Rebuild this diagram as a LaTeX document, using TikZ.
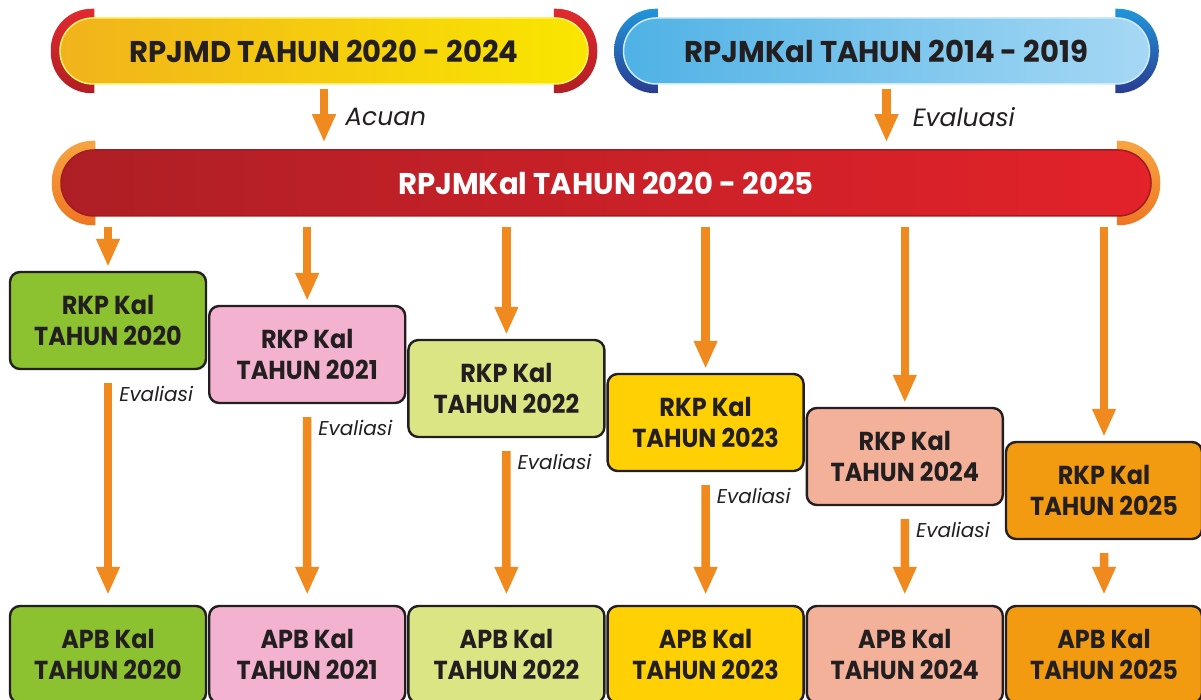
\documentclass[tikz,border=0pt]{standalone}
\usepackage{fontspec}
\setmainfont{Poppins}
\newfontfamily\boxfont{Poppins}[FakeStretch=0.92]
\newfontfamily\bannerfont{Poppins}[FakeStretch=0.97]
\usetikzlibrary{arrows.meta,positioning,matrix,backgrounds}

\definecolor{ink}{HTML}{231F20}
\definecolor{floworange}{HTML}{F0891E}
\definecolor{c2020}{HTML}{8CC230}
\definecolor{c2021}{HTML}{F3B3D0}
\definecolor{c2022}{HTML}{DCE584}
\definecolor{c2023}{HTML}{FFD004}
\definecolor{c2024}{HTML}{F4B199}
\definecolor{c2025}{HTML}{F29B11}
\definecolor{goldleft}{HTML}{F1B31C}
\definecolor{goldright}{HTML}{F9E600}
\definecolor{goldedge}{HTML}{FFF36B}
\definecolor{redcaptop}{HTML}{E02A2F}
\definecolor{redcapbot}{HTML}{B01F24}
\definecolor{skyleft}{HTML}{4FB2E5}
\definecolor{skyright}{HTML}{A6D8F4}
\definecolor{skyedge}{HTML}{CDEBFA}
\definecolor{bluecaptop}{HTML}{2196DB}
\definecolor{bluecapbot}{HTML}{2A3B8F}
\definecolor{planleft}{HTML}{AE1F25}
\definecolor{planright}{HTML}{E3222A}
\definecolor{planedge}{HTML}{A11C22}
\definecolor{orcaptop}{HTML}{F7A540}
\definecolor{orcapbot}{HTML}{EE7623}

\newcommand\kal[2]{\raisebox{-3.5pt}[\height][\depth]{\begin{tabular}{@{}c@{}}#1 Kal\\TAHUN #2\end{tabular}}}
\newcommand\pillends[3]{%
  \begin{pgfonlayer}{background}
  \begin{scope}
  \clip ([xshift=-10pt,yshift=10pt]#1.north west) rectangle ([xshift=35pt,yshift=-10pt]#1.south west)
        ([xshift=-35pt,yshift=10pt]#1.north east) rectangle ([xshift=10pt,yshift=-10pt]#1.south east);
  \shade[top color=#2,bottom color=#3,rounded corners=41pt]
    ([xshift=-8.5pt,yshift=8.5pt]#1.north west) rectangle ([xshift=8.5pt,yshift=-8.5pt]#1.south east);
  \end{scope}
  \end{pgfonlayer}}

\tikzset{
  flow/.style={draw=floworange, line width=8.5pt, -{Triangle[width=22pt,length=28pt]}},
  yearbox/.style={draw=ink, line width=2.4pt, rounded corners=10pt, minimum width=196pt,
    minimum height=97pt, text=ink, inner sep=0pt,
    font=\boxfont\bfseries\fontsize{26}{31}\selectfont},
  pill/.style={rounded corners=33pt, minimum height=66pt, line width=1.5pt, inner sep=0pt,
    font=\bannerfont\bfseries\fontsize{30}{36}\selectfont},
  note/.style={font=\itshape\fontsize{25}{30}\selectfont, text=ink, inner sep=0pt},
  small note/.style={font=\itshape\fontsize{20}{24}\selectfont, text=ink, inner sep=0pt},
}

\begin{document}
\begin{tikzpicture}[x=1pt,y=-1pt]
\useasboundingbox (0,0) rectangle (1201,700);

\node[pill, minimum width=528pt, left color=goldleft, right color=goldright, draw=goldedge, text=ink] (rpjmd) at (324,51) {RPJMD TAHUN 2020 - 2024};
\pillends{rpjmd}{redcaptop}{redcapbot}
\node[pill, minimum width=526pt, left color=skyleft, right color=skyright, draw=skyedge, text=ink] (lama) at (886.5,51) {RPJMKal TAHUN 2014 - 2019};
\pillends{lama}{bluecaptop}{bluecapbot}
\node[pill, minimum width=1090pt, left color=planleft, right color=planright, draw=planedge, text=white] (mid) at (606,183) {RPJMKal TAHUN 2020 - 2025};
\pillends{mid}{orcaptop}{orcapbot}

\draw[flow, shorten <=4pt, shorten >=7pt] (rpjmd.south) -- (rpjmd.south |- mid.north) node[midway, note, right=17pt] {Acuan};
\draw[flow, shorten <=4pt, shorten >=7pt] (lama.south) -- (lama.south |- mid.north) node[midway, note, right=22pt] {Evaluasi};

\foreach \yr/\col [count=\i] in {2020/c2020,2021/c2021,2022/c2022,2023/c2023,2024/c2024,2025/c2025}
  \node[yearbox, fill=\col] (rkp\i) at ({108+199.2*(\i-1)},{320.5+34*(\i-1)}) {\kal{RKP}{\yr}};

\matrix[matrix of nodes, nodes={yearbox}, column sep=0.8pt] (apb) at (606,654.5) {
  |[fill=c2020]| \kal{APB}{2020} & |[fill=c2021]| \kal{APB}{2021} & |[fill=c2022]| \kal{APB}{2022} &
  |[fill=c2023]| \kal{APB}{2023} & |[fill=c2024]| \kal{APB}{2024} & |[fill=c2025]| \kal{APB}{2025} \\
};

\foreach \i in {1,...,6}
  \draw[flow, shorten <=10pt, shorten >=4pt] (rkp\i.north |- mid.south) -- (rkp\i.north);
\foreach \i in {1,...,5}
  \draw[flow, shorten <=13pt, shorten >=10pt] (rkp\i.south) -- (apb-1-\i.north)
    node[pos=0, small note, below right=12pt and 7pt] {Evaliasi};
\draw[flow, shorten <=13pt, shorten >=10pt] (rkp6.south) -- (apb-1-6.north);
\end{tikzpicture}
\end{document}
